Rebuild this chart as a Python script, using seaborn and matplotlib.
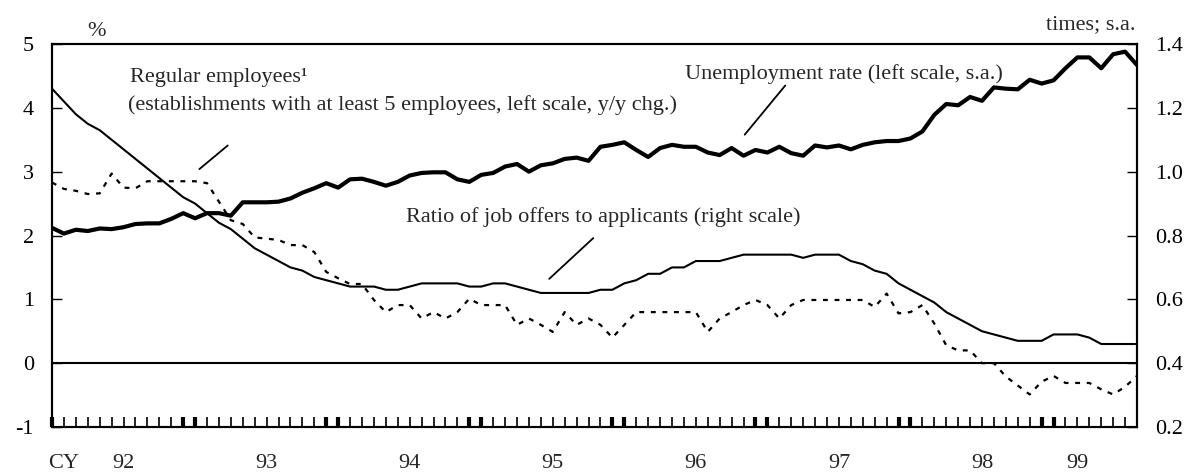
import numpy as np
import pandas as pd
import matplotlib
matplotlib.use("Agg")
import matplotlib.pyplot as plt
import matplotlib.transforms as mtransforms
from matplotlib.ticker import FixedLocator
import seaborn as sns

# ---------------- data (monthly, Jan 1992 - Aug 1999) ----------------
months = pd.period_range("1992-01", "1999-08", freq="M")

unemployment_rate = [
    2.12, 2.03, 2.09, 2.07, 2.11, 2.10, 2.13, 2.18, 2.19, 2.19, 2.26, 2.35,
    2.27, 2.35, 2.35, 2.31, 2.52, 2.52, 2.52, 2.53, 2.58, 2.67, 2.74, 2.82,
    2.75, 2.88, 2.89, 2.84, 2.78, 2.84, 2.94, 2.98, 2.99, 2.99, 2.88, 2.84,
    2.95, 2.98, 3.08, 3.12, 3.00, 3.10, 3.13, 3.20, 3.22, 3.17, 3.39, 3.42,
    3.46, 3.34, 3.23, 3.37, 3.42, 3.39, 3.39, 3.30, 3.26, 3.37, 3.25, 3.34,
    3.30, 3.39, 3.29, 3.25, 3.41, 3.38, 3.41, 3.35, 3.42, 3.46, 3.48, 3.48,
    3.52, 3.63, 3.89, 4.06, 4.04, 4.17, 4.11, 4.32, 4.30, 4.29, 4.44, 4.38,
    4.43, 4.62, 4.79, 4.79, 4.62, 4.84, 4.88, 4.67,
]

job_offers_ratio = [
    1.26, 1.22, 1.18, 1.15, 1.13, 1.10, 1.07, 1.04, 1.01, 0.98, 0.95, 0.92,
    0.90, 0.87, 0.84, 0.82, 0.79, 0.76, 0.74, 0.72, 0.70, 0.69, 0.67, 0.66,
    0.65, 0.64, 0.64, 0.64, 0.63, 0.63, 0.64, 0.65, 0.65, 0.65, 0.65, 0.64,
    0.64, 0.65, 0.65, 0.64, 0.63, 0.62, 0.62, 0.62, 0.62, 0.62, 0.63, 0.63,
    0.65, 0.66, 0.68, 0.68, 0.70, 0.70, 0.72, 0.72, 0.72, 0.73, 0.74, 0.74,
    0.74, 0.74, 0.74, 0.73, 0.74, 0.74, 0.74, 0.72, 0.71, 0.69, 0.68, 0.65,
    0.63, 0.61, 0.59, 0.56, 0.54, 0.52, 0.50, 0.49, 0.48, 0.47, 0.47, 0.47,
    0.49, 0.49, 0.49, 0.48, 0.46, 0.46, 0.46, 0.46,
]

regular_employees = [
    2.83, 2.73, 2.70, 2.65, 2.66, 2.97, 2.75, 2.74, 2.85, 2.85, 2.85, 2.85,
    2.85, 2.82, 2.53, 2.24, 2.18, 1.97, 1.95, 1.93, 1.85, 1.85, 1.74, 1.43,
    1.33, 1.24, 1.24, 0.99, 0.80, 0.91, 0.91, 0.70, 0.80, 0.70, 0.80, 1.01,
    0.91, 0.91, 0.91, 0.60, 0.70, 0.60, 0.49, 0.80, 0.60, 0.70, 0.60, 0.40,
    0.60, 0.80, 0.80, 0.80, 0.80, 0.80, 0.80, 0.49, 0.70, 0.80, 0.91, 0.99,
    0.91, 0.70, 0.91, 0.99, 0.99, 0.99, 0.99, 0.99, 0.99, 0.88, 1.09, 0.78,
    0.80, 0.91, 0.62, 0.28, 0.20, 0.20, 0.00, 0.00, -0.21, -0.35, -0.49, -0.29,
    -0.20, -0.31, -0.31, -0.31, -0.41, -0.49, -0.37, -0.20,
]

year_labels = ["92", "93", "94", "95", "96", "97", "98", "99"]
left_ticks = [-1, 0, 1, 2, 3, 4, 5]
right_ticks = [0.2, 0.4, 0.6, 0.8, 1.0, 1.2, 1.4]

# ---------------- style ----------------
sns.set_style("white")
plt.rcParams["font.family"] = ["Liberation Serif", "DejaVu Serif"]
plt.rcParams["axes.unicode_minus"] = False
FS = 16

df = pd.DataFrame({
    "t": np.arange(len(months)),
    "unemp": unemployment_rate,
    "ratio": job_offers_ratio,
    "regular": regular_employees,
})

W, H = 1190, 473
fig = plt.figure(figsize=(W / 100, H / 100), dpi=100)
L, R, T, B = 52, 1137, 44, 427
ax = fig.add_axes([L / W, 1 - B / H, (R - L) / W, (B - T) / H])
ax2 = ax.twinx()

ax.axhline(0, color="black", lw=1.5, zorder=1)

sns.lineplot(data=df, x="t", y="regular", ax=ax, color="black", lw=1.6,
             linestyle=(0, (2.2, 3.0)), legend=False)
sns.lineplot(data=df, x="t", y="unemp", ax=ax, color="black", lw=3.0,
             legend=False)
sns.lineplot(data=df, x="t", y="ratio", ax=ax2, color="black", lw=1.5,
             legend=False)

n = len(months)
ax.set_xlim(0, n - 1)
ax.set_ylim(-1, 5)
ax2.set_ylim(0.2, 1.4)
ax.set_xlabel("")
ax.set_ylabel("")
ax2.set_ylabel("")

# y ticks
ax.set_yticks(left_ticks)
ax.set_yticklabels([str(v) for v in left_ticks])
ax.tick_params(axis="y", direction="in", length=7, width=1.0, labelsize=FS,
               pad=13, colors="black", left=True)
ax2.set_yticks(right_ticks)
ax2.set_yticklabels([f"{v:.1f}" for v in right_ticks])
ax2.tick_params(axis="y", direction="in", length=7, width=1.0, labelsize=FS,
                pad=13, colors="black", right=True)

# x ticks: every month, thick marks around each year boundary
year_bounds = []
for k in range(0, n, 12):
    if k - 1 >= 0:
        year_bounds.append(k - 1)
    year_bounds.append(k)
ax.xaxis.set_major_locator(FixedLocator(year_bounds))
ax.xaxis.set_minor_locator(FixedLocator(list(range(n))))
ax.tick_params(axis="x", which="major", direction="in", length=7, width=3.0,
               bottom=True, top=False, labelbottom=False, colors="black")
ax.tick_params(axis="x", which="minor", direction="in", length=7, width=1.2,
               bottom=True, top=False, labelbottom=False, colors="black")

# year labels
trans = mtransforms.blended_transform_factory(ax.transData, ax.transAxes)
label_y = -(463 - B) / (B - T)
ax.text((64 - L) / ((R - L) / (n - 1)), label_y, "CY", transform=trans,
        ha="center", va="center", fontsize=FS)
for k, lab in enumerate(year_labels):
    start = 12 * k
    end = min(12 * k + 12, n - 1)
    xc = (start + end) / 2 if end - start == 12 else 86
    ax.text(xc, label_y, lab, transform=trans, ha="center", va="center",
            fontsize=FS)

for a in (ax, ax2):
    for s in a.spines.values():
        s.set_color("black")
        s.set_linewidth(1.5)

# units
fig.text(96.7 / W, 1 - 36.5 / H, "%", ha="center", va="baseline", fontsize=FS)
fig.text(1135 / W, 1 - 29.3 / H, "times; s.a.", ha="right", va="baseline",
         fontsize=FS)

# annotations
ax.text(6.54, 4.40, "Regular employees\u00b9", ha="left", va="baseline",
        fontsize=FS)
ax.text(6.4, 3.96,
        "(establishments with at least 5 employees, left scale, y/y chg.)",
        ha="left", va="baseline", fontsize=FS)
ax.text(53.1, 4.456, "Unemployment rate (left scale, s.a.)", ha="left",
        va="baseline", fontsize=FS)
ax.text(29.7, 2.21, "Ratio of job offers to applicants (right scale)",
        ha="left", va="baseline", fontsize=FS)

lk = dict(arrowstyle="-", color="black", lw=1.3, shrinkA=0, shrinkB=0)
ax.annotate("", xy=(12.36, 3.04), xytext=(14.74, 3.41), arrowprops=lk)
ax.annotate("", xy=(58.1, 3.58), xytext=(61.5, 4.35), arrowprops=lk)
ax.annotate("", xy=(41.7, 1.32), xytext=(45.4, 1.96), arrowprops=lk)

fig.savefig("out.png", dpi=100)
